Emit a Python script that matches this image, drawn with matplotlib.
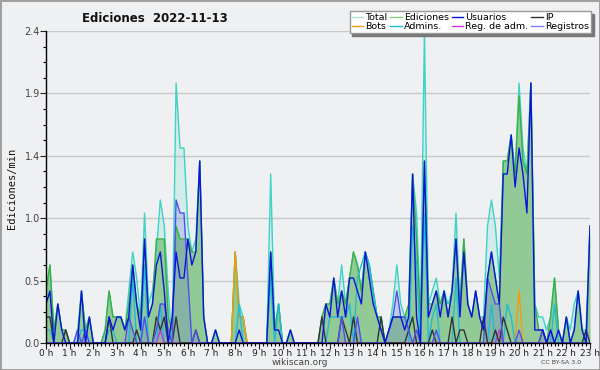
import matplotlib
matplotlib.use('Agg')
import matplotlib.pyplot as plt
from matplotlib.lines import Line2D
from matplotlib.ticker import MultipleLocator, FixedLocator
import numpy as np

# 10-minute bins from 0:00 to 23:00, edits per minute
total = [0.4, 0.6, 0.1, 0.3, 0.1, 0.1,
         0.0, 0.0, 0.1, 0.4, 0.1, 0.2,
         0.0, 0.0, 0.0, 0.1, 0.4, 0.2,
         0.2, 0.2, 0.1, 0.4, 0.7, 0.5,
         0.2, 1.0, 0.3, 0.4, 0.7, 1.1,
         0.9, 0.4, 0.0, 2.0, 1.5, 1.5,
         0.9, 0.7, 0.8, 1.4, 0.2, 0.0,
         0.0, 0.1, 0.0, 0.0, 0.0, 0.0,
         0.7, 0.3, 0.2, 0.0, 0.0, 0.0,
         0.0, 0.0, 0.0, 1.3, 0.1, 0.3,
         0.0, 0.0, 0.1, 0.0, 0.0, 0.0,
         0.0, 0.0, 0.0, 0.0, 0.2, 0.3,
         0.3, 0.5, 0.3, 0.6, 0.3, 0.5,
         0.7, 0.6, 0.4, 0.7, 0.6, 0.4,
         0.2, 0.2, 0.0, 0.1, 0.3, 0.6,
         0.3, 0.2, 0.2, 1.3, 1.0, 0.2,
         2.4, 0.3, 0.4, 0.5, 0.3, 0.4,
         0.3, 0.4, 1.0, 0.3, 0.8, 0.3,
         0.2, 0.4, 0.2, 0.2, 0.9, 1.1,
         0.9, 0.5, 1.4, 1.4, 1.6, 1.3,
         2.0, 1.5, 1.3, 2.0, 0.3, 0.2,
         0.2, 0.1, 0.2, 0.5, 0.1, 0.0,
         0.2, 0.1, 0.3, 0.4, 0.1, 0.1,
         0.9]

ediciones = [0.4, 0.6, 0.1, 0.3, 0.1, 0.1,
             0.0, 0.0, 0.0, 0.4, 0.1, 0.2,
             0.0, 0.0, 0.0, 0.1, 0.4, 0.2,
             0.2, 0.2, 0.1, 0.3, 0.6, 0.3,
             0.2, 0.8, 0.2, 0.3, 0.8, 0.8,
             0.8, 0.2, 0.1, 0.9, 0.8, 0.8,
             0.8, 0.7, 0.7, 1.4, 0.2, 0.0,
             0.0, 0.1, 0.0, 0.0, 0.0, 0.0,
             0.7, 0.2, 0.2, 0.0, 0.0, 0.0,
             0.0, 0.0, 0.0, 0.7, 0.1, 0.3,
             0.0, 0.0, 0.1, 0.0, 0.0, 0.0,
             0.0, 0.0, 0.0, 0.0, 0.2, 0.3,
             0.3, 0.5, 0.3, 0.4, 0.3, 0.5,
             0.7, 0.6, 0.4, 0.7, 0.6, 0.4,
             0.2, 0.2, 0.0, 0.1, 0.2, 0.2,
             0.2, 0.2, 0.3, 1.3, 0.8, 0.2,
             1.4, 0.3, 0.3, 0.4, 0.3, 0.4,
             0.2, 0.4, 0.8, 0.3, 0.8, 0.3,
             0.2, 0.4, 0.2, 0.1, 0.5, 0.7,
             0.5, 0.3, 1.4, 1.4, 1.6, 1.3,
             1.9, 1.4, 1.3, 2.0, 0.3, 0.1,
             0.1, 0.0, 0.2, 0.5, 0.1, 0.0,
             0.2, 0.0, 0.1, 0.4, 0.1, 0.0,
             0.9]

usuarios = [0.3, 0.4, 0.0, 0.3, 0.1, 0.0,
            0.0, 0.0, 0.0, 0.4, 0.0, 0.2,
            0.0, 0.0, 0.0, 0.0, 0.2, 0.1,
            0.2, 0.2, 0.1, 0.2, 0.6, 0.3,
            0.1, 0.8, 0.2, 0.3, 0.6, 0.7,
            0.4, 0.0, 0.2, 0.7, 0.5, 0.5,
            0.8, 0.6, 0.7, 1.4, 0.2, 0.0,
            0.0, 0.1, 0.0, 0.0, 0.0, 0.0,
            0.0, 0.1, 0.0, 0.0, 0.0, 0.0,
            0.0, 0.0, 0.0, 0.7, 0.1, 0.1,
            0.0, 0.0, 0.1, 0.0, 0.0, 0.0,
            0.0, 0.0, 0.0, 0.0, 0.0, 0.3,
            0.2, 0.5, 0.2, 0.4, 0.2, 0.5,
            0.5, 0.4, 0.3, 0.7, 0.5, 0.3,
            0.2, 0.1, 0.0, 0.1, 0.2, 0.2,
            0.2, 0.1, 0.2, 1.3, 0.2, 0.0,
            1.4, 0.2, 0.3, 0.4, 0.2, 0.4,
            0.2, 0.4, 0.8, 0.2, 0.7, 0.3,
            0.2, 0.4, 0.2, 0.1, 0.5, 0.7,
            0.5, 0.3, 1.3, 1.3, 1.6, 1.2,
            1.5, 1.3, 1.0, 2.0, 0.1, 0.1,
            0.1, 0.0, 0.1, 0.0, 0.1, 0.0,
            0.2, 0.0, 0.1, 0.4, 0.1, 0.0,
            0.9]

# sparse series: {bin index: value}
ip_pts = {0: 0.2, 1: 0.2, 5: 0.1, 16: 0.2, 23: 0.1, 28: 0.2, 29: 0.1, 30: 0.2,
          33: 0.2, 38: 0.1, 70: 0.2, 75: 0.2, 76: 0.1, 78: 0.2, 85: 0.2, 92: 0.1,
          93: 0.2, 98: 0.1, 103: 0.2, 105: 0.1, 106: 0.1, 111: 0.2, 114: 0.1,
          116: 0.2, 117: 0.1, 126: 0.1, 137: 0.1}
registros_pts = {8: 0.1, 10: 0.1, 21: 0.2, 22: 0.1, 25: 0.2, 28: 0.1, 29: 0.3,
                 30: 0.3, 31: 0.1, 33: 1.1, 34: 1.0, 35: 1.0, 36: 0.5, 38: 0.1,
                 75: 0.2, 79: 0.2, 87: 0.1, 88: 0.2, 89: 0.4, 90: 0.2, 91: 0.2,
                 92: 0.1, 94: 0.1, 99: 0.1, 112: 0.5, 113: 0.4, 114: 0.3,
                 115: 0.3, 120: 0.1, 126: 0.1, 128: 0.1}
admins_pts = {0: 0.1, 1: 0.1, 9: 0.1, 10: 0.1, 16: 0.1, 17: 0.1, 22: 0.5, 25: 0.6,
              29: 0.3, 49: 0.3, 57: 0.5, 59: 0.3, 72: 0.2, 73: 0.2, 74: 0.2,
              75: 0.2, 76: 0.2, 77: 0.3, 79: 0.5, 80: 0.6, 81: 0.7, 82: 0.6,
              83: 0.4, 84: 0.2, 85: 0.1, 93: 0.9, 94: 0.6, 96: 1.0, 98: 0.2,
              99: 0.3, 104: 0.5, 113: 0.3, 117: 0.3, 118: 0.2, 129: 0.3, 137: 0.1}
bots_pts = {48: 0.7, 49: 0.2, 50: 0.2, 120: 0.4}
regadm_pts = {29: 0.1, 115: 0.1}

hour_labels = ['%d h' % h for h in range(24)]

n = len(total)
x = np.arange(n) / 6.0


def expand(pts):
    arr = np.zeros(n)
    for k, v in pts.items():
        arr[k] = v
    return arr


ip = expand(ip_pts)
registros = expand(registros_pts)
admins = expand(admins_pts)
bots = expand(bots_pts)
regadm = expand(regadm_pts)

bg = '#eff0f2'
c_total = '#3dd3c5'
c_edic = '#3cb043'
c_usu = '#0a14dc'
c_ip = '#333333'
c_bots = '#f39c12'
c_adm = '#22bad6'
c_regadm = '#cc33dd'
c_reg = '#4f4fec'

fig = plt.figure(figsize=(6, 3.7), dpi=100)
fig.patch.set_facecolor(bg)
fig.patch.set_edgecolor('#a0a0a0')
fig.patch.set_linewidth(2)

ax = fig.add_axes([46 / 600, 27 / 370, 544 / 600, 312 / 370])
ax.set_facecolor(bg)

lw = 1.0
ax.fill_between(x, total, color=c_total, alpha=0.15, lw=0)
ax.plot(x, total, color=c_total, lw=lw)
ax.fill_between(x, ediciones, color='#8fc991', alpha=0.95, lw=0)
ax.plot(x, ediciones, color=c_edic, lw=lw)
ax.fill_between(x, registros, color=c_reg, alpha=0.18, lw=0)
ax.plot(x, bots, color=c_bots, lw=lw)
ax.plot(x, admins, color=c_adm, lw=lw)
ax.plot(x, regadm, color=c_regadm, lw=lw)
ax.plot(x, ip, color=c_ip, lw=lw)
ax.plot(x, registros, color=c_reg, lw=lw)
ax.plot(x, usuarios, color=c_usu, lw=lw)

ax.set_xlim(0, 23)
ax.set_ylim(0, 2.4)

yt = [0.48 * k for k in range(6)]
ax.yaxis.set_major_locator(FixedLocator(yt))
ax.set_yticklabels(['%.1f' % v for v in yt])
ax.yaxis.set_minor_locator(MultipleLocator(0.12))
ax.xaxis.set_major_locator(FixedLocator(range(24)))
ax.set_xticklabels(hour_labels)
ax.xaxis.set_minor_locator(MultipleLocator(1 / 6))

ax.tick_params(axis='both', which='major', direction='out', length=4, width=0.8,
               labelsize=6.5, pad=0.5, colors='#222222')
ax.tick_params(axis='both', which='minor', direction='out', length=2.5, width=0.8)
ax.tick_params(axis='y', labelcolor='#444444', labelsize=7)

ax.grid(axis='y', which='major', color='#c8c8c8', lw=1)
ax.set_axisbelow(True)
for s in ['top', 'right']:
    ax.spines[s].set_visible(False)
for s in ['left', 'bottom']:
    ax.spines[s].set_color('black')
    ax.spines[s].set_linewidth(1)

fig.text(0.258, 0.951, 'Ediciones  2022-11-13', ha='center', va='center',
         fontsize=8.5, weight='bold', color='#111111')
fig.text(0.02, 0.49, 'Ediciones/min', rotation=90, ha='center', va='center',
         fontsize=7.5, family='DejaVu Sans Mono', color='#111111')
fig.text(0.5, 0.02, 'wikiscan.org', ha='center', va='center', fontsize=6.5,
         color='#444444')
fig.text(0.935, 0.02, 'CC BY-SA 3.0', ha='center', va='center', fontsize=4.5,
         color='#444444')

labels = ['Total', 'Bots', 'Ediciones', 'Admins.', 'Usuarios', 'Reg. de adm.',
          'IP', 'Registros']
cols = ['#a8e6de', c_bots, '#80d080', c_adm, c_usu, c_regadm, c_ip, '#7f7ff0']
handles = [Line2D([], [], color=c, lw=1) for c in cols]
leg = fig.legend(handles, labels, loc='upper right', bbox_to_anchor=(0.985, 0.97),
                 ncol=4, fontsize=6.8, frameon=True, fancybox=False,
                 shadow={'color': '#777777', 'alpha': 1},
                 handlelength=1.2, handletextpad=0.25, columnspacing=0.3,
                 labelspacing=0.02, borderpad=0.2, borderaxespad=0)
leg.get_frame().set_edgecolor('#999999')
leg.get_frame().set_facecolor('white')
leg.get_frame().set_alpha(1)

fig.savefig('out.png', dpi=100, facecolor=fig.get_facecolor(),
            edgecolor=fig.get_edgecolor())
